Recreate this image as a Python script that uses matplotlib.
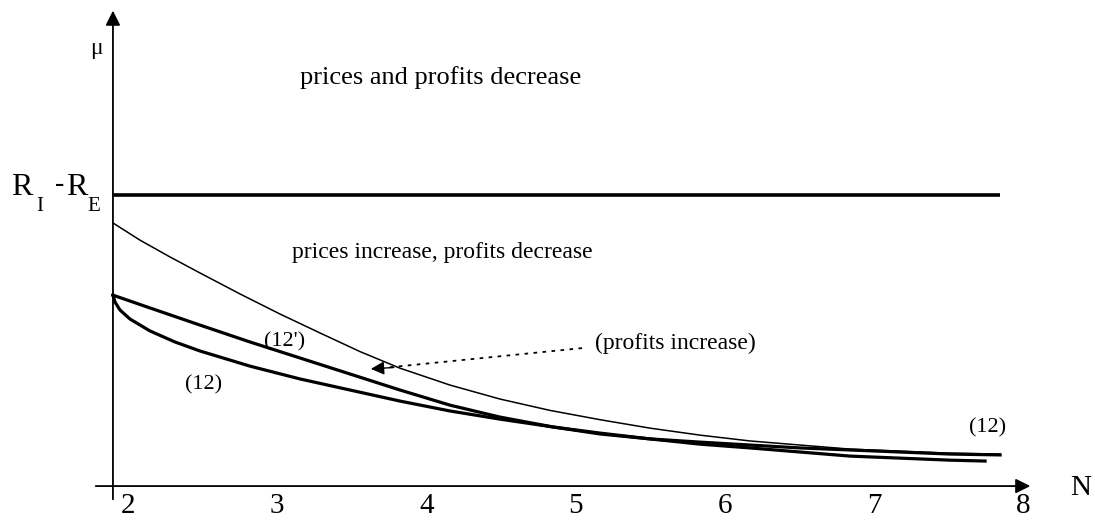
import matplotlib.pyplot as plt

# values (N on the x axis, mu on the y axis, R_I - R_E = 1)
n_ticks = [2, 3, 4, 5, 6, 7, 8]
gap = 1.0  # R_I - R_E

thin_n = [1.899, 2.080, 2.282, 2.483, 2.751, 3.019, 3.287, 3.555, 3.823, 4.158, 4.493,
          4.828, 5.164, 5.499, 5.834, 6.169, 6.504, 6.839, 7.174, 7.509, 7.845]
thin_mu = [0.904, 0.845, 0.787, 0.732, 0.660, 0.591, 0.526, 0.462, 0.405, 0.347, 0.299,
           0.260, 0.228, 0.199, 0.175, 0.155, 0.141, 0.127, 0.120, 0.113, 0.110]

c12p_n = [1.899, 2.147, 2.483, 2.818, 3.153, 3.488, 3.823, 4.158, 4.493, 4.849, 5.164,
          5.499, 5.834, 6.169, 6.504, 6.839, 7.174, 7.509, 7.845]
c12p_mu = [0.656, 0.612, 0.553, 0.495, 0.440, 0.385, 0.330, 0.278, 0.237, 0.203, 0.182,
           0.162, 0.151, 0.141, 0.131, 0.124, 0.117, 0.110, 0.107]

c12_n = [1.899, 1.913, 1.946, 2.013, 2.147, 2.315, 2.483, 2.818, 3.153, 3.488, 3.823, 4.158,
         4.493, 4.849, 5.164, 5.499, 5.834, 6.169, 6.504, 6.839, 7.174, 7.509, 7.744]
c12_mu = [0.656, 0.632, 0.605, 0.574, 0.533, 0.495, 0.464, 0.412, 0.368, 0.330, 0.292, 0.258,
          0.230, 0.203, 0.179, 0.162, 0.144, 0.131, 0.117, 0.103, 0.096, 0.089, 0.086]

n0 = 1.899
n_end = 7.845

fig = plt.figure(figsize=(10.95, 5.21), dpi=100)
ax = fig.add_axes([0, 0, 1, 1])
ax.set_xlim(1.142, 8.481)
ax.set_ylim(-0.120, 1.670)
ax.axis("off")

serif = "Liberation Serif"

# axes with arrows
ax.annotate("", xy=(8.066, 0), xytext=(1.765, 0),
            arrowprops=dict(arrowstyle="-|>", lw=1.3, color="black", mutation_scale=22))
ax.annotate("", xy=(n0, 1.643), xytext=(n0, -0.055),
            arrowprops=dict(arrowstyle="-|>", lw=1.3, color="black", mutation_scale=22))

# R_I - R_E line
ax.plot([n0, n_end], [gap, gap], color="black", lw=2.6, solid_capstyle="butt")

# curves
ax.plot(thin_n, thin_mu, color="black", lw=1.1)
ax.plot(c12p_n, c12p_mu, color="black", lw=2.3, solid_joinstyle="round")
ax.plot(c12_n, c12_mu, color="black", lw=2.3, solid_joinstyle="round")

# dotted pointer
ax.plot([5.043, 3.75], [0.474, 0.408], color="black", lw=1.3, linestyle=(0, (2, 3)))
ax.annotate("", xy=(3.609, 0.402), xytext=(3.80, 0.408),
            arrowprops=dict(arrowstyle="-|>", lw=1.0, color="black", mutation_scale=20))

# tick labels
for n in n_ticks:
    ax.text(n, -0.068, str(n), fontsize=21, family=serif, ha="center", va="center")
ax.text(8.387, -0.007, "N", fontsize=21, family=serif, ha="center", va="center")
ax.text(1.786, 1.505, "\u03bc", fontsize=17, family=serif, ha="center", va="center")

# R_I - R_E label
ax.text(1.142 + 22 / 149.2, gap + 0.025, "R", fontsize=23, family=serif, ha="center", va="center")
ax.text(1.142 + 40 / 149.2, gap - 0.04, "I", fontsize=15, family=serif, ha="center", va="center")
ax.text(1.142 + 60 / 149.2, gap + 0.035, "-", fontsize=20, family=serif, ha="center", va="center")
ax.text(1.142 + 77 / 149.2, gap + 0.025, "R", fontsize=23, family=serif, ha="center", va="center")
ax.text(1.142 + 94 / 149.2, gap - 0.04, "E", fontsize=15, family=serif, ha="center", va="center")

# region texts
ax.text(3.153, 1.405, "prices and profits decrease", fontsize=19, family=serif, ha="left", va="center")
ax.text(3.099, 0.804, "prices increase, profits decrease", fontsize=17, family=serif, ha="left", va="center")
ax.text(5.13, 0.491, "(profits increase)", fontsize=17, family=serif, ha="left", va="center")
ax.text(3.046, 0.496, "(12')", fontsize=16, family=serif, ha="center", va="center")
ax.text(2.503, 0.347, "(12)", fontsize=16, family=serif, ha="center", va="center")
ax.text(7.764, 0.199, "(12)", fontsize=16, family=serif, ha="center", va="center")

fig.savefig("out.png", dpi=100)
